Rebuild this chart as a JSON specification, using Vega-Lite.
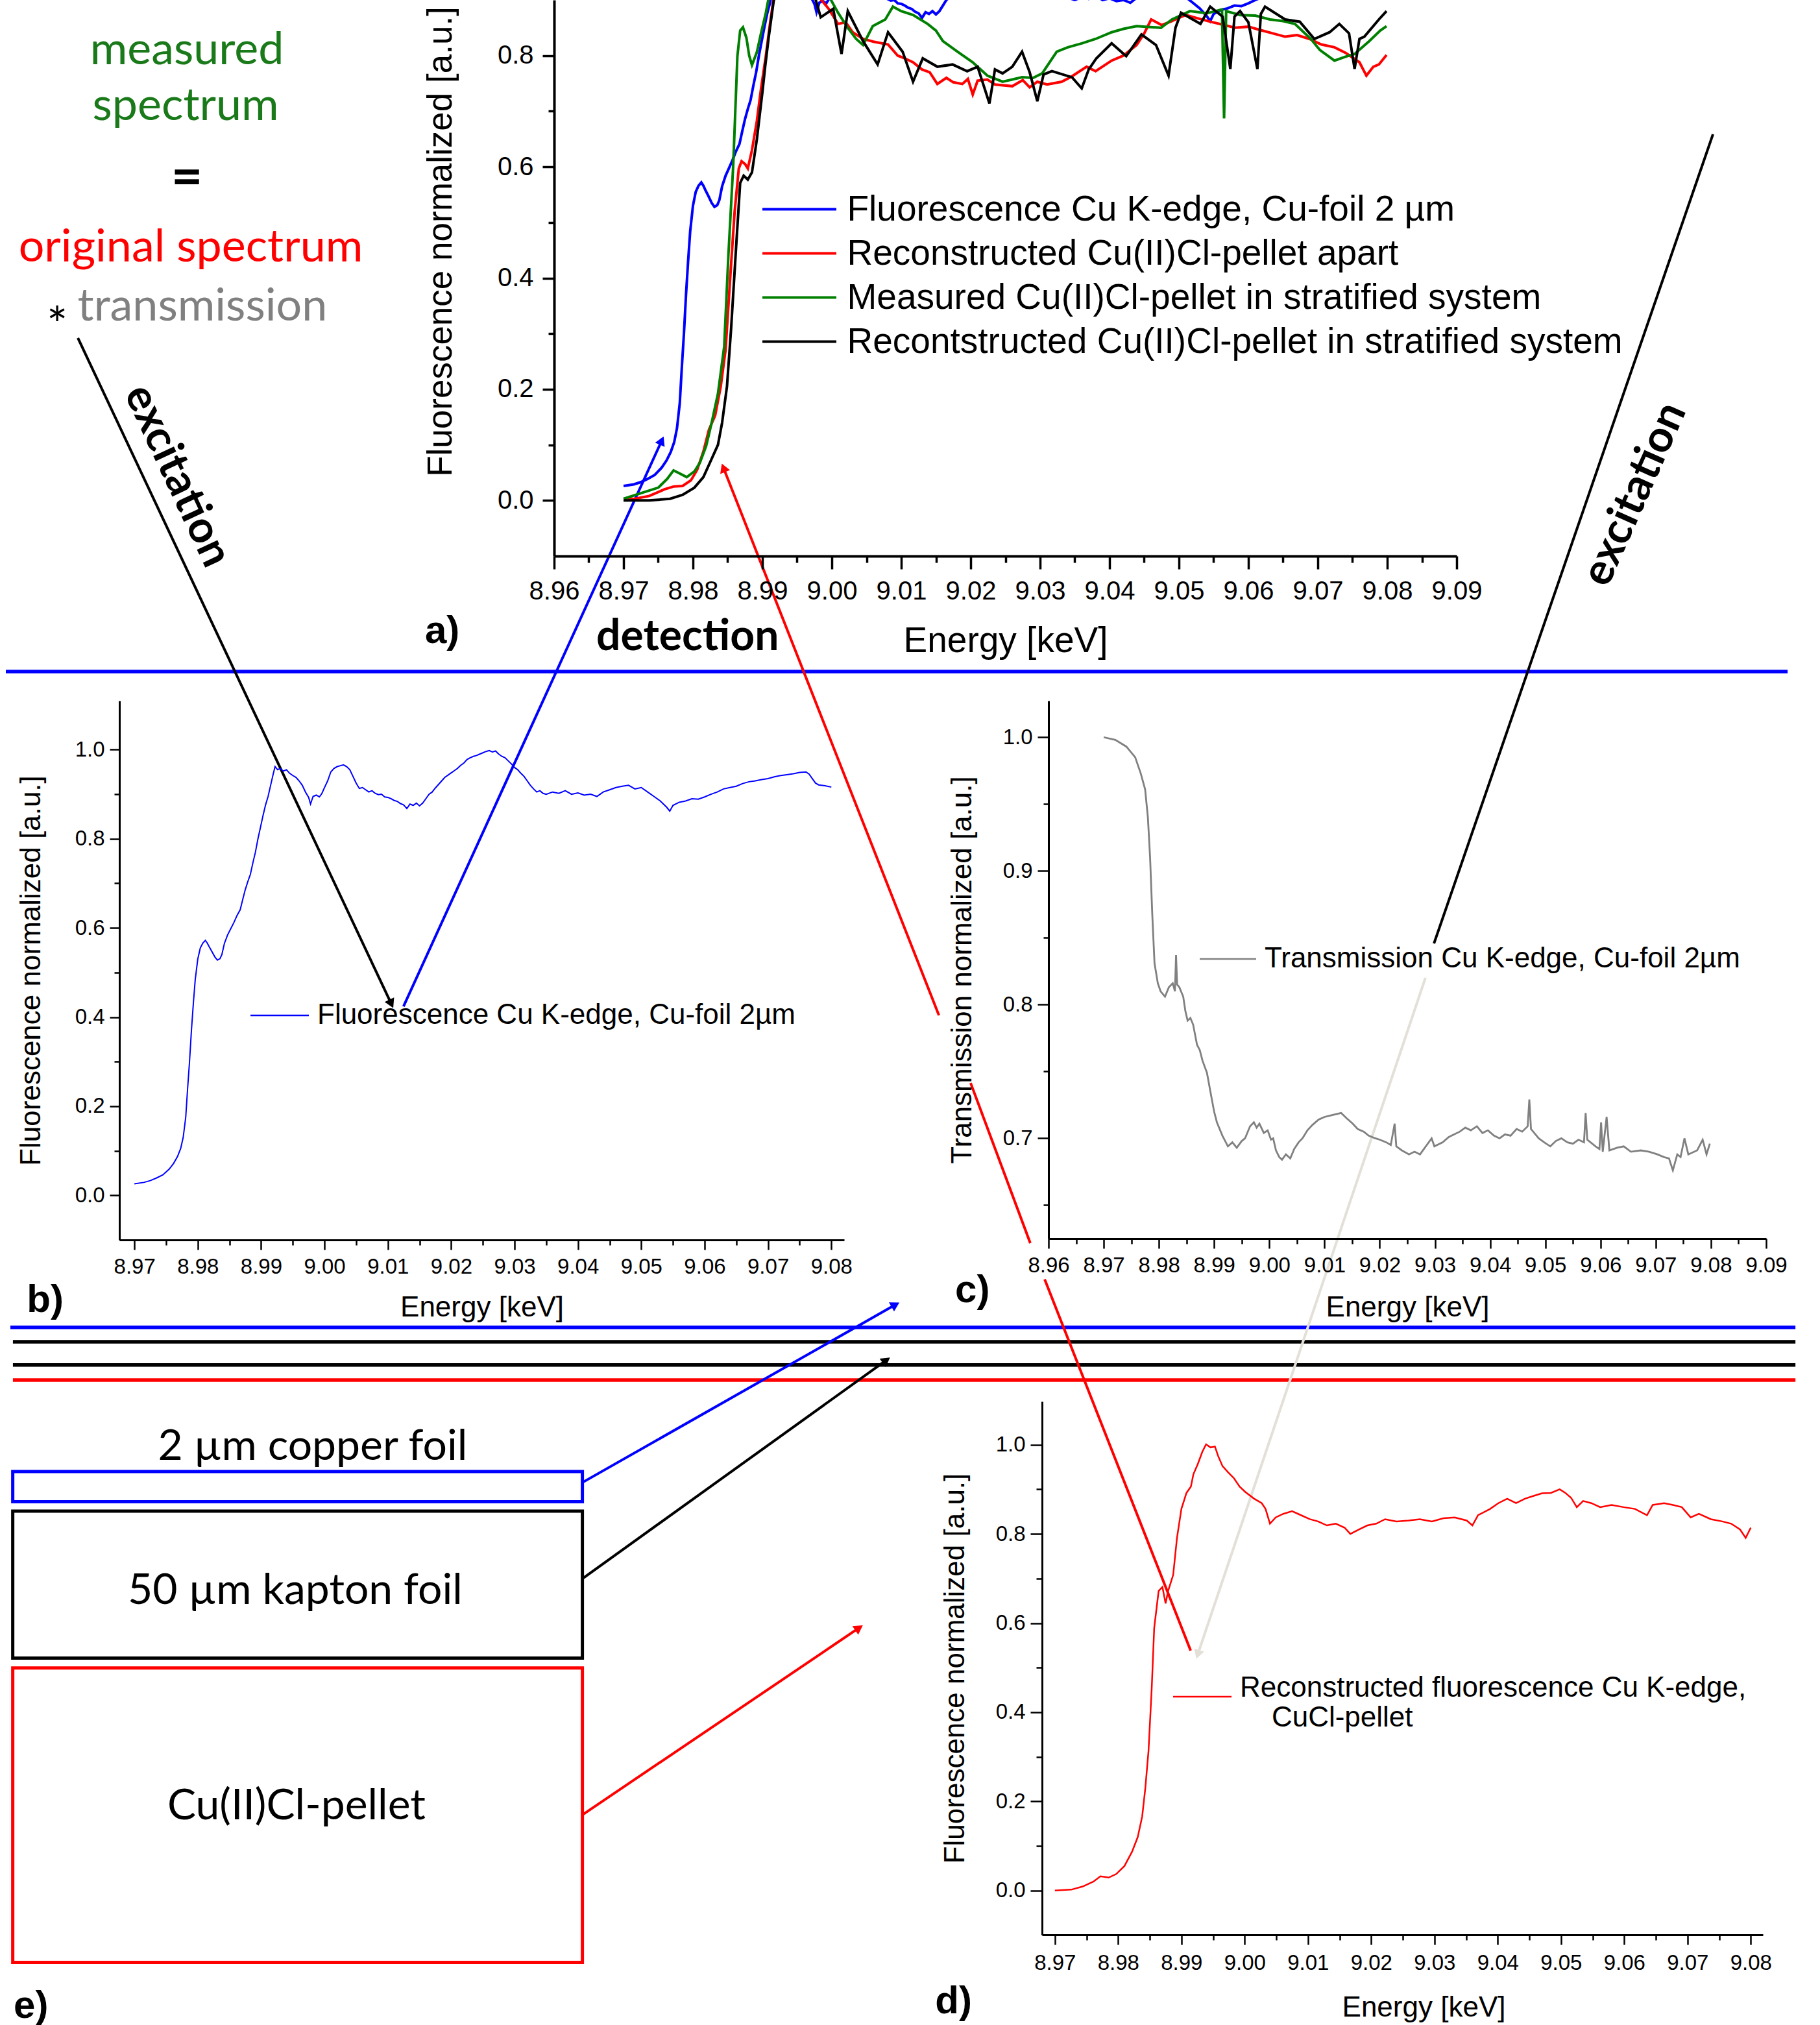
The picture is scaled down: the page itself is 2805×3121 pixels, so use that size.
{
  "$schema": "https://vega.github.io/schema/vega-lite/v6.json",
  "background": "white",
  "padding": 0,
  "config": {
    "view": {"stroke": null},
    "axis": {"labelFont": "Liberation Sans", "titleFont": "Liberation Sans", "titleFontWeight": "normal", "labelColor": "black", "titleColor": "black", "domainColor": "black", "tickColor": "black", "grid": false, "labelFlush": false, "labelOverlap": false, "labelBound": false},
    "legend": {"labelFont": "Liberation Sans", "labelColor": "black", "labelLimit": 0, "padding": 0}
  },
  "datasets": {
    "foil": [
      {"energy":8.970,"value":0.026,"series":"Fluorescence Cu K-edge, Cu-foil 2µm"},
      {"energy":8.9715,"value":0.029,"series":"Fluorescence Cu K-edge, Cu-foil 2µm"},
      {"energy":8.9725,"value":0.033,"series":"Fluorescence Cu K-edge, Cu-foil 2µm"},
      {"energy":8.9735,"value":0.039,"series":"Fluorescence Cu K-edge, Cu-foil 2µm"},
      {"energy":8.9745,"value":0.046,"series":"Fluorescence Cu K-edge, Cu-foil 2µm"},
      {"energy":8.9755,"value":0.059,"series":"Fluorescence Cu K-edge, Cu-foil 2µm"},
      {"energy":8.9762,"value":0.072,"series":"Fluorescence Cu K-edge, Cu-foil 2µm"},
      {"energy":8.9768,"value":0.087,"series":"Fluorescence Cu K-edge, Cu-foil 2µm"},
      {"energy":8.9773,"value":0.105,"series":"Fluorescence Cu K-edge, Cu-foil 2µm"},
      {"energy":8.9777,"value":0.13,"series":"Fluorescence Cu K-edge, Cu-foil 2µm"},
      {"energy":8.9781,"value":0.175,"series":"Fluorescence Cu K-edge, Cu-foil 2µm"},
      {"energy":8.9784,"value":0.24,"series":"Fluorescence Cu K-edge, Cu-foil 2µm"},
      {"energy":8.9787,"value":0.30,"series":"Fluorescence Cu K-edge, Cu-foil 2µm"},
      {"energy":8.979,"value":0.37,"series":"Fluorescence Cu K-edge, Cu-foil 2µm"},
      {"energy":8.9793,"value":0.43,"series":"Fluorescence Cu K-edge, Cu-foil 2µm"},
      {"energy":8.9796,"value":0.484,"series":"Fluorescence Cu K-edge, Cu-foil 2µm"},
      {"energy":8.98,"value":0.53,"series":"Fluorescence Cu K-edge, Cu-foil 2µm"},
      {"energy":8.9804,"value":0.555,"series":"Fluorescence Cu K-edge, Cu-foil 2µm"},
      {"energy":8.9808,"value":0.566,"series":"Fluorescence Cu K-edge, Cu-foil 2µm"},
      {"energy":8.9812,"value":0.572,"series":"Fluorescence Cu K-edge, Cu-foil 2µm"},
      {"energy":8.9815,"value":0.566,"series":"Fluorescence Cu K-edge, Cu-foil 2µm"},
      {"energy":8.9818,"value":0.558,"series":"Fluorescence Cu K-edge, Cu-foil 2µm"},
      {"energy":8.9822,"value":0.548,"series":"Fluorescence Cu K-edge, Cu-foil 2µm"},
      {"energy":8.9827,"value":0.535,"series":"Fluorescence Cu K-edge, Cu-foil 2µm"},
      {"energy":8.9831,"value":0.528,"series":"Fluorescence Cu K-edge, Cu-foil 2µm"},
      {"energy":8.9835,"value":0.531,"series":"Fluorescence Cu K-edge, Cu-foil 2µm"},
      {"energy":8.9838,"value":0.54,"series":"Fluorescence Cu K-edge, Cu-foil 2µm"},
      {"energy":8.9842,"value":0.565,"series":"Fluorescence Cu K-edge, Cu-foil 2µm"},
      {"energy":8.9847,"value":0.584,"series":"Fluorescence Cu K-edge, Cu-foil 2µm"},
      {"energy":8.9852,"value":0.598,"series":"Fluorescence Cu K-edge, Cu-foil 2µm"},
      {"energy":8.9857,"value":0.612,"series":"Fluorescence Cu K-edge, Cu-foil 2µm"},
      {"energy":8.9862,"value":0.628,"series":"Fluorescence Cu K-edge, Cu-foil 2µm"},
      {"energy":8.9867,"value":0.641,"series":"Fluorescence Cu K-edge, Cu-foil 2µm"},
      {"energy":8.9871,"value":0.664,"series":"Fluorescence Cu K-edge, Cu-foil 2µm"},
      {"energy":8.9875,"value":0.686,"series":"Fluorescence Cu K-edge, Cu-foil 2µm"},
      {"energy":8.9879,"value":0.704,"series":"Fluorescence Cu K-edge, Cu-foil 2µm"},
      {"energy":8.9883,"value":0.72,"series":"Fluorescence Cu K-edge, Cu-foil 2µm"},
      {"energy":8.9887,"value":0.746,"series":"Fluorescence Cu K-edge, Cu-foil 2µm"},
      {"energy":8.9891,"value":0.77,"series":"Fluorescence Cu K-edge, Cu-foil 2µm"},
      {"energy":8.9895,"value":0.80,"series":"Fluorescence Cu K-edge, Cu-foil 2µm"},
      {"energy":8.9899,"value":0.826,"series":"Fluorescence Cu K-edge, Cu-foil 2µm"},
      {"energy":8.9903,"value":0.852,"series":"Fluorescence Cu K-edge, Cu-foil 2µm"},
      {"energy":8.9907,"value":0.876,"series":"Fluorescence Cu K-edge, Cu-foil 2µm"},
      {"energy":8.9911,"value":0.895,"series":"Fluorescence Cu K-edge, Cu-foil 2µm"},
      {"energy":8.9915,"value":0.92,"series":"Fluorescence Cu K-edge, Cu-foil 2µm"},
      {"energy":8.9919,"value":0.945,"series":"Fluorescence Cu K-edge, Cu-foil 2µm"},
      {"energy":8.9922,"value":0.962,"series":"Fluorescence Cu K-edge, Cu-foil 2µm"},
      {"energy":8.9926,"value":0.955,"series":"Fluorescence Cu K-edge, Cu-foil 2µm"},
      {"energy":8.993,"value":0.958,"series":"Fluorescence Cu K-edge, Cu-foil 2µm"},
      {"energy":8.9935,"value":0.952,"series":"Fluorescence Cu K-edge, Cu-foil 2µm"},
      {"energy":8.994,"value":0.955,"series":"Fluorescence Cu K-edge, Cu-foil 2µm"},
      {"energy":8.9945,"value":0.947,"series":"Fluorescence Cu K-edge, Cu-foil 2µm"},
      {"energy":8.995,"value":0.942,"series":"Fluorescence Cu K-edge, Cu-foil 2µm"},
      {"energy":8.9955,"value":0.938,"series":"Fluorescence Cu K-edge, Cu-foil 2µm"},
      {"energy":8.996,"value":0.93,"series":"Fluorescence Cu K-edge, Cu-foil 2µm"},
      {"energy":8.9965,"value":0.92,"series":"Fluorescence Cu K-edge, Cu-foil 2µm"},
      {"energy":8.997,"value":0.905,"series":"Fluorescence Cu K-edge, Cu-foil 2µm"},
      {"energy":8.9975,"value":0.893,"series":"Fluorescence Cu K-edge, Cu-foil 2µm"},
      {"energy":8.9978,"value":0.878,"series":"Fluorescence Cu K-edge, Cu-foil 2µm"},
      {"energy":8.9982,"value":0.895,"series":"Fluorescence Cu K-edge, Cu-foil 2µm"},
      {"energy":8.9987,"value":0.898,"series":"Fluorescence Cu K-edge, Cu-foil 2µm"},
      {"energy":8.9992,"value":0.894,"series":"Fluorescence Cu K-edge, Cu-foil 2µm"},
      {"energy":8.9996,"value":0.902,"series":"Fluorescence Cu K-edge, Cu-foil 2µm"},
      {"energy":9.0,"value":0.915,"series":"Fluorescence Cu K-edge, Cu-foil 2µm"},
      {"energy":9.0005,"value":0.93,"series":"Fluorescence Cu K-edge, Cu-foil 2µm"},
      {"energy":9.001,"value":0.95,"series":"Fluorescence Cu K-edge, Cu-foil 2µm"},
      {"energy":9.0015,"value":0.958,"series":"Fluorescence Cu K-edge, Cu-foil 2µm"},
      {"energy":9.002,"value":0.962,"series":"Fluorescence Cu K-edge, Cu-foil 2µm"},
      {"energy":9.0025,"value":0.964,"series":"Fluorescence Cu K-edge, Cu-foil 2µm"},
      {"energy":9.003,"value":0.966,"series":"Fluorescence Cu K-edge, Cu-foil 2µm"},
      {"energy":9.0035,"value":0.962,"series":"Fluorescence Cu K-edge, Cu-foil 2µm"},
      {"energy":9.004,"value":0.955,"series":"Fluorescence Cu K-edge, Cu-foil 2µm"},
      {"energy":9.0045,"value":0.94,"series":"Fluorescence Cu K-edge, Cu-foil 2µm"},
      {"energy":9.005,"value":0.925,"series":"Fluorescence Cu K-edge, Cu-foil 2µm"},
      {"energy":9.0055,"value":0.913,"series":"Fluorescence Cu K-edge, Cu-foil 2µm"},
      {"energy":9.006,"value":0.915,"series":"Fluorescence Cu K-edge, Cu-foil 2µm"},
      {"energy":9.0065,"value":0.91,"series":"Fluorescence Cu K-edge, Cu-foil 2µm"},
      {"energy":9.007,"value":0.905,"series":"Fluorescence Cu K-edge, Cu-foil 2µm"},
      {"energy":9.0075,"value":0.908,"series":"Fluorescence Cu K-edge, Cu-foil 2µm"},
      {"energy":9.008,"value":0.902,"series":"Fluorescence Cu K-edge, Cu-foil 2µm"},
      {"energy":9.0085,"value":0.899,"series":"Fluorescence Cu K-edge, Cu-foil 2µm"},
      {"energy":9.009,"value":0.9,"series":"Fluorescence Cu K-edge, Cu-foil 2µm"},
      {"energy":9.0095,"value":0.894,"series":"Fluorescence Cu K-edge, Cu-foil 2µm"},
      {"energy":9.01,"value":0.893,"series":"Fluorescence Cu K-edge, Cu-foil 2µm"},
      {"energy":9.0105,"value":0.89,"series":"Fluorescence Cu K-edge, Cu-foil 2µm"},
      {"energy":9.011,"value":0.886,"series":"Fluorescence Cu K-edge, Cu-foil 2µm"},
      {"energy":9.0115,"value":0.884,"series":"Fluorescence Cu K-edge, Cu-foil 2µm"},
      {"energy":9.012,"value":0.879,"series":"Fluorescence Cu K-edge, Cu-foil 2µm"},
      {"energy":9.0125,"value":0.876,"series":"Fluorescence Cu K-edge, Cu-foil 2µm"},
      {"energy":9.013,"value":0.868,"series":"Fluorescence Cu K-edge, Cu-foil 2µm"},
      {"energy":9.0135,"value":0.878,"series":"Fluorescence Cu K-edge, Cu-foil 2µm"},
      {"energy":9.014,"value":0.875,"series":"Fluorescence Cu K-edge, Cu-foil 2µm"},
      {"energy":9.0145,"value":0.88,"series":"Fluorescence Cu K-edge, Cu-foil 2µm"},
      {"energy":9.015,"value":0.874,"series":"Fluorescence Cu K-edge, Cu-foil 2µm"},
      {"energy":9.0155,"value":0.88,"series":"Fluorescence Cu K-edge, Cu-foil 2µm"},
      {"energy":9.016,"value":0.89,"series":"Fluorescence Cu K-edge, Cu-foil 2µm"},
      {"energy":9.0165,"value":0.9,"series":"Fluorescence Cu K-edge, Cu-foil 2µm"},
      {"energy":9.017,"value":0.905,"series":"Fluorescence Cu K-edge, Cu-foil 2µm"},
      {"energy":9.0175,"value":0.914,"series":"Fluorescence Cu K-edge, Cu-foil 2µm"},
      {"energy":9.018,"value":0.922,"series":"Fluorescence Cu K-edge, Cu-foil 2µm"},
      {"energy":9.0185,"value":0.93,"series":"Fluorescence Cu K-edge, Cu-foil 2µm"},
      {"energy":9.019,"value":0.938,"series":"Fluorescence Cu K-edge, Cu-foil 2µm"},
      {"energy":9.0195,"value":0.943,"series":"Fluorescence Cu K-edge, Cu-foil 2µm"},
      {"energy":9.02,"value":0.948,"series":"Fluorescence Cu K-edge, Cu-foil 2µm"},
      {"energy":9.0205,"value":0.953,"series":"Fluorescence Cu K-edge, Cu-foil 2µm"},
      {"energy":9.021,"value":0.958,"series":"Fluorescence Cu K-edge, Cu-foil 2µm"},
      {"energy":9.0215,"value":0.965,"series":"Fluorescence Cu K-edge, Cu-foil 2µm"},
      {"energy":9.022,"value":0.97,"series":"Fluorescence Cu K-edge, Cu-foil 2µm"},
      {"energy":9.0225,"value":0.978,"series":"Fluorescence Cu K-edge, Cu-foil 2µm"},
      {"energy":9.023,"value":0.982,"series":"Fluorescence Cu K-edge, Cu-foil 2µm"},
      {"energy":9.0235,"value":0.985,"series":"Fluorescence Cu K-edge, Cu-foil 2µm"},
      {"energy":9.024,"value":0.987,"series":"Fluorescence Cu K-edge, Cu-foil 2µm"},
      {"energy":9.0245,"value":0.99,"series":"Fluorescence Cu K-edge, Cu-foil 2µm"},
      {"energy":9.025,"value":0.993,"series":"Fluorescence Cu K-edge, Cu-foil 2µm"},
      {"energy":9.0255,"value":0.996,"series":"Fluorescence Cu K-edge, Cu-foil 2µm"},
      {"energy":9.026,"value":0.998,"series":"Fluorescence Cu K-edge, Cu-foil 2µm"},
      {"energy":9.0265,"value":0.995,"series":"Fluorescence Cu K-edge, Cu-foil 2µm"},
      {"energy":9.027,"value":0.997,"series":"Fluorescence Cu K-edge, Cu-foil 2µm"},
      {"energy":9.0275,"value":0.99,"series":"Fluorescence Cu K-edge, Cu-foil 2µm"},
      {"energy":9.028,"value":0.985,"series":"Fluorescence Cu K-edge, Cu-foil 2µm"},
      {"energy":9.0285,"value":0.982,"series":"Fluorescence Cu K-edge, Cu-foil 2µm"},
      {"energy":9.029,"value":0.975,"series":"Fluorescence Cu K-edge, Cu-foil 2µm"},
      {"energy":9.0295,"value":0.968,"series":"Fluorescence Cu K-edge, Cu-foil 2µm"},
      {"energy":9.03,"value":0.96,"series":"Fluorescence Cu K-edge, Cu-foil 2µm"},
      {"energy":9.0305,"value":0.955,"series":"Fluorescence Cu K-edge, Cu-foil 2µm"},
      {"energy":9.031,"value":0.947,"series":"Fluorescence Cu K-edge, Cu-foil 2µm"},
      {"energy":9.0315,"value":0.94,"series":"Fluorescence Cu K-edge, Cu-foil 2µm"},
      {"energy":9.032,"value":0.93,"series":"Fluorescence Cu K-edge, Cu-foil 2µm"},
      {"energy":9.0325,"value":0.92,"series":"Fluorescence Cu K-edge, Cu-foil 2µm"},
      {"energy":9.033,"value":0.912,"series":"Fluorescence Cu K-edge, Cu-foil 2µm"},
      {"energy":9.0335,"value":0.905,"series":"Fluorescence Cu K-edge, Cu-foil 2µm"},
      {"energy":9.034,"value":0.908,"series":"Fluorescence Cu K-edge, Cu-foil 2µm"},
      {"energy":9.0345,"value":0.902,"series":"Fluorescence Cu K-edge, Cu-foil 2µm"},
      {"energy":9.035,"value":0.9,"series":"Fluorescence Cu K-edge, Cu-foil 2µm"},
      {"energy":9.036,"value":0.905,"series":"Fluorescence Cu K-edge, Cu-foil 2µm"},
      {"energy":9.037,"value":0.902,"series":"Fluorescence Cu K-edge, Cu-foil 2µm"},
      {"energy":9.038,"value":0.908,"series":"Fluorescence Cu K-edge, Cu-foil 2µm"},
      {"energy":9.039,"value":0.9,"series":"Fluorescence Cu K-edge, Cu-foil 2µm"},
      {"energy":9.04,"value":0.903,"series":"Fluorescence Cu K-edge, Cu-foil 2µm"},
      {"energy":9.041,"value":0.898,"series":"Fluorescence Cu K-edge, Cu-foil 2µm"},
      {"energy":9.042,"value":0.9,"series":"Fluorescence Cu K-edge, Cu-foil 2µm"},
      {"energy":9.043,"value":0.895,"series":"Fluorescence Cu K-edge, Cu-foil 2µm"},
      {"energy":9.044,"value":0.905,"series":"Fluorescence Cu K-edge, Cu-foil 2µm"},
      {"energy":9.045,"value":0.91,"series":"Fluorescence Cu K-edge, Cu-foil 2µm"},
      {"energy":9.046,"value":0.915,"series":"Fluorescence Cu K-edge, Cu-foil 2µm"},
      {"energy":9.047,"value":0.918,"series":"Fluorescence Cu K-edge, Cu-foil 2µm"},
      {"energy":9.048,"value":0.92,"series":"Fluorescence Cu K-edge, Cu-foil 2µm"},
      {"energy":9.049,"value":0.912,"series":"Fluorescence Cu K-edge, Cu-foil 2µm"},
      {"energy":9.05,"value":0.915,"series":"Fluorescence Cu K-edge, Cu-foil 2µm"},
      {"energy":9.051,"value":0.905,"series":"Fluorescence Cu K-edge, Cu-foil 2µm"},
      {"energy":9.052,"value":0.895,"series":"Fluorescence Cu K-edge, Cu-foil 2µm"},
      {"energy":9.053,"value":0.885,"series":"Fluorescence Cu K-edge, Cu-foil 2µm"},
      {"energy":9.054,"value":0.871,"series":"Fluorescence Cu K-edge, Cu-foil 2µm"},
      {"energy":9.0545,"value":0.862,"series":"Fluorescence Cu K-edge, Cu-foil 2µm"},
      {"energy":9.055,"value":0.875,"series":"Fluorescence Cu K-edge, Cu-foil 2µm"},
      {"energy":9.056,"value":0.882,"series":"Fluorescence Cu K-edge, Cu-foil 2µm"},
      {"energy":9.057,"value":0.885,"series":"Fluorescence Cu K-edge, Cu-foil 2µm"},
      {"energy":9.058,"value":0.89,"series":"Fluorescence Cu K-edge, Cu-foil 2µm"},
      {"energy":9.059,"value":0.889,"series":"Fluorescence Cu K-edge, Cu-foil 2µm"},
      {"energy":9.06,"value":0.894,"series":"Fluorescence Cu K-edge, Cu-foil 2µm"},
      {"energy":9.061,"value":0.9,"series":"Fluorescence Cu K-edge, Cu-foil 2µm"},
      {"energy":9.062,"value":0.905,"series":"Fluorescence Cu K-edge, Cu-foil 2µm"},
      {"energy":9.063,"value":0.912,"series":"Fluorescence Cu K-edge, Cu-foil 2µm"},
      {"energy":9.064,"value":0.915,"series":"Fluorescence Cu K-edge, Cu-foil 2µm"},
      {"energy":9.065,"value":0.918,"series":"Fluorescence Cu K-edge, Cu-foil 2µm"},
      {"energy":9.066,"value":0.924,"series":"Fluorescence Cu K-edge, Cu-foil 2µm"},
      {"energy":9.067,"value":0.928,"series":"Fluorescence Cu K-edge, Cu-foil 2µm"},
      {"energy":9.068,"value":0.93,"series":"Fluorescence Cu K-edge, Cu-foil 2µm"},
      {"energy":9.069,"value":0.933,"series":"Fluorescence Cu K-edge, Cu-foil 2µm"},
      {"energy":9.07,"value":0.935,"series":"Fluorescence Cu K-edge, Cu-foil 2µm"},
      {"energy":9.071,"value":0.939,"series":"Fluorescence Cu K-edge, Cu-foil 2µm"},
      {"energy":9.072,"value":0.942,"series":"Fluorescence Cu K-edge, Cu-foil 2µm"},
      {"energy":9.073,"value":0.944,"series":"Fluorescence Cu K-edge, Cu-foil 2µm"},
      {"energy":9.074,"value":0.946,"series":"Fluorescence Cu K-edge, Cu-foil 2µm"},
      {"energy":9.075,"value":0.949,"series":"Fluorescence Cu K-edge, Cu-foil 2µm"},
      {"energy":9.076,"value":0.95,"series":"Fluorescence Cu K-edge, Cu-foil 2µm"},
      {"energy":9.0765,"value":0.945,"series":"Fluorescence Cu K-edge, Cu-foil 2µm"},
      {"energy":9.077,"value":0.935,"series":"Fluorescence Cu K-edge, Cu-foil 2µm"},
      {"energy":9.0775,"value":0.925,"series":"Fluorescence Cu K-edge, Cu-foil 2µm"},
      {"energy":9.078,"value":0.921,"series":"Fluorescence Cu K-edge, Cu-foil 2µm"},
      {"energy":9.079,"value":0.919,"series":"Fluorescence Cu K-edge, Cu-foil 2µm"},
      {"energy":9.08,"value":0.916,"series":"Fluorescence Cu K-edge, Cu-foil 2µm"}
    ],
    "stack": [
      {"energy":8.970,"value":0.002,"series":"Reconstructed Cu(II)Cl-pellet apart"},
      {"energy":8.9716,"value":0.003,"series":"Reconstructed Cu(II)Cl-pellet apart"},
      {"energy":8.9737,"value":0.008,"series":"Reconstructed Cu(II)Cl-pellet apart"},
      {"energy":8.9759,"value":0.02,"series":"Reconstructed Cu(II)Cl-pellet apart"},
      {"energy":8.9772,"value":0.025,"series":"Reconstructed Cu(II)Cl-pellet apart"},
      {"energy":8.9785,"value":0.026,"series":"Reconstructed Cu(II)Cl-pellet apart"},
      {"energy":8.9797,"value":0.036,"series":"Reconstructed Cu(II)Cl-pellet apart"},
      {"energy":8.9806,"value":0.055,"series":"Reconstructed Cu(II)Cl-pellet apart"},
      {"energy":8.9815,"value":0.088,"series":"Reconstructed Cu(II)Cl-pellet apart"},
      {"energy":8.9823,"value":0.127,"series":"Reconstructed Cu(II)Cl-pellet apart"},
      {"energy":8.9832,"value":0.153,"series":"Reconstructed Cu(II)Cl-pellet apart"},
      {"energy":8.984,"value":0.205,"series":"Reconstructed Cu(II)Cl-pellet apart"},
      {"energy":8.9847,"value":0.271,"series":"Reconstructed Cu(II)Cl-pellet apart"},
      {"energy":8.9853,"value":0.388,"series":"Reconstructed Cu(II)Cl-pellet apart"},
      {"energy":8.986,"value":0.519,"series":"Reconstructed Cu(II)Cl-pellet apart"},
      {"energy":8.9866,"value":0.597,"series":"Reconstructed Cu(II)Cl-pellet apart"},
      {"energy":8.987,"value":0.61,"series":"Reconstructed Cu(II)Cl-pellet apart"},
      {"energy":8.9875,"value":0.605,"series":"Reconstructed Cu(II)Cl-pellet apart"},
      {"energy":8.9879,"value":0.597,"series":"Reconstructed Cu(II)Cl-pellet apart"},
      {"energy":8.9885,"value":0.63,"series":"Reconstructed Cu(II)Cl-pellet apart"},
      {"energy":8.9892,"value":0.682,"series":"Reconstructed Cu(II)Cl-pellet apart"},
      {"energy":8.9898,"value":0.74,"series":"Reconstructed Cu(II)Cl-pellet apart"},
      {"energy":8.9905,"value":0.80,"series":"Reconstructed Cu(II)Cl-pellet apart"},
      {"energy":8.9911,"value":0.858,"series":"Reconstructed Cu(II)Cl-pellet apart"},
      {"energy":8.9917,"value":0.91,"series":"Reconstructed Cu(II)Cl-pellet apart"},
      {"energy":8.9925,"value":0.96,"series":"Reconstructed Cu(II)Cl-pellet apart"},
      {"energy":8.9935,"value":0.99,"series":"Reconstructed Cu(II)Cl-pellet apart"},
      {"energy":8.9945,"value":1.0,"series":"Reconstructed Cu(II)Cl-pellet apart"},
      {"energy":8.9955,"value":0.98,"series":"Reconstructed Cu(II)Cl-pellet apart"},
      {"energy":8.9965,"value":0.95,"series":"Reconstructed Cu(II)Cl-pellet apart"},
      {"energy":8.9975,"value":0.92,"series":"Reconstructed Cu(II)Cl-pellet apart"},
      {"energy":8.9985,"value":0.9,"series":"Reconstructed Cu(II)Cl-pellet apart"},
      {"energy":8.9995,"value":0.885,"series":"Reconstructed Cu(II)Cl-pellet apart"},
      {"energy":9.0009,"value":0.857,"series":"Reconstructed Cu(II)Cl-pellet apart"},
      {"energy":9.002,"value":0.86,"series":"Reconstructed Cu(II)Cl-pellet apart"},
      {"energy":9.003,"value":0.842,"series":"Reconstructed Cu(II)Cl-pellet apart"},
      {"energy":9.0045,"value":0.83,"series":"Reconstructed Cu(II)Cl-pellet apart"},
      {"energy":9.006,"value":0.825,"series":"Reconstructed Cu(II)Cl-pellet apart"},
      {"energy":9.0081,"value":0.82,"series":"Reconstructed Cu(II)Cl-pellet apart"},
      {"energy":9.0095,"value":0.80,"series":"Reconstructed Cu(II)Cl-pellet apart"},
      {"energy":9.0105,"value":0.795,"series":"Reconstructed Cu(II)Cl-pellet apart"},
      {"energy":9.0117,"value":0.788,"series":"Reconstructed Cu(II)Cl-pellet apart"},
      {"energy":9.013,"value":0.775,"series":"Reconstructed Cu(II)Cl-pellet apart"},
      {"energy":9.0141,"value":0.77,"series":"Reconstructed Cu(II)Cl-pellet apart"},
      {"energy":9.0152,"value":0.749,"series":"Reconstructed Cu(II)Cl-pellet apart"},
      {"energy":9.0165,"value":0.76,"series":"Reconstructed Cu(II)Cl-pellet apart"},
      {"energy":9.0175,"value":0.752,"series":"Reconstructed Cu(II)Cl-pellet apart"},
      {"energy":9.0188,"value":0.749,"series":"Reconstructed Cu(II)Cl-pellet apart"},
      {"energy":9.0196,"value":0.758,"series":"Reconstructed Cu(II)Cl-pellet apart"},
      {"energy":9.0203,"value":0.73,"series":"Reconstructed Cu(II)Cl-pellet apart"},
      {"energy":9.021,"value":0.755,"series":"Reconstructed Cu(II)Cl-pellet apart"},
      {"energy":9.0224,"value":0.757,"series":"Reconstructed Cu(II)Cl-pellet apart"},
      {"energy":9.0235,"value":0.748,"series":"Reconstructed Cu(II)Cl-pellet apart"},
      {"energy":9.026,"value":0.745,"series":"Reconstructed Cu(II)Cl-pellet apart"},
      {"energy":9.0275,"value":0.756,"series":"Reconstructed Cu(II)Cl-pellet apart"},
      {"energy":9.0285,"value":0.743,"series":"Reconstructed Cu(II)Cl-pellet apart"},
      {"energy":9.0296,"value":0.753,"series":"Reconstructed Cu(II)Cl-pellet apart"},
      {"energy":9.031,"value":0.748,"series":"Reconstructed Cu(II)Cl-pellet apart"},
      {"energy":9.0331,"value":0.753,"series":"Reconstructed Cu(II)Cl-pellet apart"},
      {"energy":9.0345,"value":0.762,"series":"Reconstructed Cu(II)Cl-pellet apart"},
      {"energy":9.0367,"value":0.78,"series":"Reconstructed Cu(II)Cl-pellet apart"},
      {"energy":9.038,"value":0.772,"series":"Reconstructed Cu(II)Cl-pellet apart"},
      {"energy":9.0403,"value":0.791,"series":"Reconstructed Cu(II)Cl-pellet apart"},
      {"energy":9.042,"value":0.80,"series":"Reconstructed Cu(II)Cl-pellet apart"},
      {"energy":9.0439,"value":0.819,"series":"Reconstructed Cu(II)Cl-pellet apart"},
      {"energy":9.045,"value":0.84,"series":"Reconstructed Cu(II)Cl-pellet apart"},
      {"energy":9.046,"value":0.865,"series":"Reconstructed Cu(II)Cl-pellet apart"},
      {"energy":9.0475,"value":0.855,"series":"Reconstructed Cu(II)Cl-pellet apart"},
      {"energy":9.0488,"value":0.861,"series":"Reconstructed Cu(II)Cl-pellet apart"},
      {"energy":9.05,"value":0.868,"series":"Reconstructed Cu(II)Cl-pellet apart"},
      {"energy":9.051,"value":0.873,"series":"Reconstructed Cu(II)Cl-pellet apart"},
      {"energy":9.053,"value":0.866,"series":"Reconstructed Cu(II)Cl-pellet apart"},
      {"energy":9.0545,"value":0.861,"series":"Reconstructed Cu(II)Cl-pellet apart"},
      {"energy":9.0565,"value":0.855,"series":"Reconstructed Cu(II)Cl-pellet apart"},
      {"energy":9.0581,"value":0.85,"series":"Reconstructed Cu(II)Cl-pellet apart"},
      {"energy":9.06,"value":0.852,"series":"Reconstructed Cu(II)Cl-pellet apart"},
      {"energy":9.0617,"value":0.846,"series":"Reconstructed Cu(II)Cl-pellet apart"},
      {"energy":9.0635,"value":0.84,"series":"Reconstructed Cu(II)Cl-pellet apart"},
      {"energy":9.0653,"value":0.834,"series":"Reconstructed Cu(II)Cl-pellet apart"},
      {"energy":9.067,"value":0.837,"series":"Reconstructed Cu(II)Cl-pellet apart"},
      {"energy":9.0688,"value":0.83,"series":"Reconstructed Cu(II)Cl-pellet apart"},
      {"energy":9.0705,"value":0.82,"series":"Reconstructed Cu(II)Cl-pellet apart"},
      {"energy":9.0724,"value":0.815,"series":"Reconstructed Cu(II)Cl-pellet apart"},
      {"energy":9.074,"value":0.805,"series":"Reconstructed Cu(II)Cl-pellet apart"},
      {"energy":9.076,"value":0.788,"series":"Reconstructed Cu(II)Cl-pellet apart"},
      {"energy":9.077,"value":0.764,"series":"Reconstructed Cu(II)Cl-pellet apart"},
      {"energy":9.078,"value":0.78,"series":"Reconstructed Cu(II)Cl-pellet apart"},
      {"energy":9.0788,"value":0.784,"series":"Reconstructed Cu(II)Cl-pellet apart"},
      {"energy":9.0799,"value":0.801,"series":"Reconstructed Cu(II)Cl-pellet apart"},
      {"energy":8.970,"value":0.003,"series":"Measured Cu(II)Cl-pellet in stratified system"},
      {"energy":8.9725,"value":0.013,"series":"Measured Cu(II)Cl-pellet in stratified system"},
      {"energy":8.975,"value":0.023,"series":"Measured Cu(II)Cl-pellet in stratified system"},
      {"energy":8.9763,"value":0.039,"series":"Measured Cu(II)Cl-pellet in stratified system"},
      {"energy":8.9772,"value":0.054,"series":"Measured Cu(II)Cl-pellet in stratified system"},
      {"energy":8.978,"value":0.049,"series":"Measured Cu(II)Cl-pellet in stratified system"},
      {"energy":8.9791,"value":0.042,"series":"Measured Cu(II)Cl-pellet in stratified system"},
      {"energy":8.9802,"value":0.052,"series":"Measured Cu(II)Cl-pellet in stratified system"},
      {"energy":8.981,"value":0.068,"series":"Measured Cu(II)Cl-pellet in stratified system"},
      {"energy":8.9819,"value":0.098,"series":"Measured Cu(II)Cl-pellet in stratified system"},
      {"energy":8.9827,"value":0.14,"series":"Measured Cu(II)Cl-pellet in stratified system"},
      {"energy":8.9836,"value":0.192,"series":"Measured Cu(II)Cl-pellet in stratified system"},
      {"energy":8.9845,"value":0.277,"series":"Measured Cu(II)Cl-pellet in stratified system"},
      {"energy":8.9851,"value":0.44,"series":"Measured Cu(II)Cl-pellet in stratified system"},
      {"energy":8.9858,"value":0.603,"series":"Measured Cu(II)Cl-pellet in stratified system"},
      {"energy":8.9864,"value":0.799,"series":"Measured Cu(II)Cl-pellet in stratified system"},
      {"energy":8.9868,"value":0.845,"series":"Measured Cu(II)Cl-pellet in stratified system"},
      {"energy":8.9872,"value":0.851,"series":"Measured Cu(II)Cl-pellet in stratified system"},
      {"energy":8.9877,"value":0.832,"series":"Measured Cu(II)Cl-pellet in stratified system"},
      {"energy":8.9881,"value":0.80,"series":"Measured Cu(II)Cl-pellet in stratified system"},
      {"energy":8.9885,"value":0.783,"series":"Measured Cu(II)Cl-pellet in stratified system"},
      {"energy":8.9892,"value":0.806,"series":"Measured Cu(II)Cl-pellet in stratified system"},
      {"energy":8.9898,"value":0.84,"series":"Measured Cu(II)Cl-pellet in stratified system"},
      {"energy":8.9905,"value":0.877,"series":"Measured Cu(II)Cl-pellet in stratified system"},
      {"energy":8.991,"value":0.91,"series":"Measured Cu(II)Cl-pellet in stratified system"},
      {"energy":8.992,"value":0.95,"series":"Measured Cu(II)Cl-pellet in stratified system"},
      {"energy":8.9935,"value":0.98,"series":"Measured Cu(II)Cl-pellet in stratified system"},
      {"energy":8.995,"value":0.99,"series":"Measured Cu(II)Cl-pellet in stratified system"},
      {"energy":8.997,"value":0.96,"series":"Measured Cu(II)Cl-pellet in stratified system"},
      {"energy":8.999,"value":0.92,"series":"Measured Cu(II)Cl-pellet in stratified system"},
      {"energy":9.0009,"value":0.877,"series":"Measured Cu(II)Cl-pellet in stratified system"},
      {"energy":9.0023,"value":0.85,"series":"Measured Cu(II)Cl-pellet in stratified system"},
      {"energy":9.0035,"value":0.83,"series":"Measured Cu(II)Cl-pellet in stratified system"},
      {"energy":9.0045,"value":0.819,"series":"Measured Cu(II)Cl-pellet in stratified system"},
      {"energy":9.0059,"value":0.853,"series":"Measured Cu(II)Cl-pellet in stratified system"},
      {"energy":9.0077,"value":0.865,"series":"Measured Cu(II)Cl-pellet in stratified system"},
      {"energy":9.0088,"value":0.888,"series":"Measured Cu(II)Cl-pellet in stratified system"},
      {"energy":9.01,"value":0.88,"series":"Measured Cu(II)Cl-pellet in stratified system"},
      {"energy":9.0117,"value":0.873,"series":"Measured Cu(II)Cl-pellet in stratified system"},
      {"energy":9.0138,"value":0.857,"series":"Measured Cu(II)Cl-pellet in stratified system"},
      {"energy":9.015,"value":0.845,"series":"Measured Cu(II)Cl-pellet in stratified system"},
      {"energy":9.016,"value":0.826,"series":"Measured Cu(II)Cl-pellet in stratified system"},
      {"energy":9.0181,"value":0.807,"series":"Measured Cu(II)Cl-pellet in stratified system"},
      {"energy":9.0203,"value":0.788,"series":"Measured Cu(II)Cl-pellet in stratified system"},
      {"energy":9.0224,"value":0.764,"series":"Measured Cu(II)Cl-pellet in stratified system"},
      {"energy":9.0246,"value":0.753,"series":"Measured Cu(II)Cl-pellet in stratified system"},
      {"energy":9.026,"value":0.757,"series":"Measured Cu(II)Cl-pellet in stratified system"},
      {"energy":9.0274,"value":0.761,"series":"Measured Cu(II)Cl-pellet in stratified system"},
      {"energy":9.029,"value":0.76,"series":"Measured Cu(II)Cl-pellet in stratified system"},
      {"energy":9.0303,"value":0.768,"series":"Measured Cu(II)Cl-pellet in stratified system"},
      {"energy":9.0324,"value":0.807,"series":"Measured Cu(II)Cl-pellet in stratified system"},
      {"energy":9.034,"value":0.815,"series":"Measured Cu(II)Cl-pellet in stratified system"},
      {"energy":9.036,"value":0.822,"series":"Measured Cu(II)Cl-pellet in stratified system"},
      {"energy":9.038,"value":0.83,"series":"Measured Cu(II)Cl-pellet in stratified system"},
      {"energy":9.0403,"value":0.842,"series":"Measured Cu(II)Cl-pellet in stratified system"},
      {"energy":9.042,"value":0.848,"series":"Measured Cu(II)Cl-pellet in stratified system"},
      {"energy":9.0439,"value":0.853,"series":"Measured Cu(II)Cl-pellet in stratified system"},
      {"energy":9.0474,"value":0.85,"series":"Measured Cu(II)Cl-pellet in stratified system"},
      {"energy":9.049,"value":0.865,"series":"Measured Cu(II)Cl-pellet in stratified system"},
      {"energy":9.0516,"value":0.88,"series":"Measured Cu(II)Cl-pellet in stratified system"},
      {"energy":9.054,"value":0.876,"series":"Measured Cu(II)Cl-pellet in stratified system"},
      {"energy":9.0562,"value":0.883,"series":"Measured Cu(II)Cl-pellet in stratified system"},
      {"energy":9.0565,"value":0.687,"series":"Measured Cu(II)Cl-pellet in stratified system"},
      {"energy":9.0568,"value":0.88,"series":"Measured Cu(II)Cl-pellet in stratified system"},
      {"energy":9.0588,"value":0.873,"series":"Measured Cu(II)Cl-pellet in stratified system"},
      {"energy":9.061,"value":0.872,"series":"Measured Cu(II)Cl-pellet in stratified system"},
      {"energy":9.0631,"value":0.865,"series":"Measured Cu(II)Cl-pellet in stratified system"},
      {"energy":9.065,"value":0.862,"series":"Measured Cu(II)Cl-pellet in stratified system"},
      {"energy":9.0667,"value":0.857,"series":"Measured Cu(II)Cl-pellet in stratified system"},
      {"energy":9.069,"value":0.83,"series":"Measured Cu(II)Cl-pellet in stratified system"},
      {"energy":9.0703,"value":0.81,"series":"Measured Cu(II)Cl-pellet in stratified system"},
      {"energy":9.0724,"value":0.791,"series":"Measured Cu(II)Cl-pellet in stratified system"},
      {"energy":9.074,"value":0.798,"series":"Measured Cu(II)Cl-pellet in stratified system"},
      {"energy":9.0753,"value":0.803,"series":"Measured Cu(II)Cl-pellet in stratified system"},
      {"energy":9.0774,"value":0.826,"series":"Measured Cu(II)Cl-pellet in stratified system"},
      {"energy":9.079,"value":0.845,"series":"Measured Cu(II)Cl-pellet in stratified system"},
      {"energy":9.0799,"value":0.853,"series":"Measured Cu(II)Cl-pellet in stratified system"},
      {"energy":8.970,"value":0.0,"series":"Recontstructed Cu(II)Cl-pellet in stratified system"},
      {"energy":8.9737,"value":0.0,"series":"Recontstructed Cu(II)Cl-pellet in stratified system"},
      {"energy":8.9767,"value":0.003,"series":"Recontstructed Cu(II)Cl-pellet in stratified system"},
      {"energy":8.9785,"value":0.01,"series":"Recontstructed Cu(II)Cl-pellet in stratified system"},
      {"energy":8.9802,"value":0.023,"series":"Recontstructed Cu(II)Cl-pellet in stratified system"},
      {"energy":8.9815,"value":0.042,"series":"Recontstructed Cu(II)Cl-pellet in stratified system"},
      {"energy":8.9827,"value":0.075,"series":"Recontstructed Cu(II)Cl-pellet in stratified system"},
      {"energy":8.9836,"value":0.10,"series":"Recontstructed Cu(II)Cl-pellet in stratified system"},
      {"energy":8.9842,"value":0.14,"series":"Recontstructed Cu(II)Cl-pellet in stratified system"},
      {"energy":8.9849,"value":0.205,"series":"Recontstructed Cu(II)Cl-pellet in stratified system"},
      {"energy":8.9855,"value":0.31,"series":"Recontstructed Cu(II)Cl-pellet in stratified system"},
      {"energy":8.9862,"value":0.453,"series":"Recontstructed Cu(II)Cl-pellet in stratified system"},
      {"energy":8.9868,"value":0.571,"series":"Recontstructed Cu(II)Cl-pellet in stratified system"},
      {"energy":8.9873,"value":0.584,"series":"Recontstructed Cu(II)Cl-pellet in stratified system"},
      {"energy":8.9879,"value":0.577,"series":"Recontstructed Cu(II)Cl-pellet in stratified system"},
      {"energy":8.9885,"value":0.59,"series":"Recontstructed Cu(II)Cl-pellet in stratified system"},
      {"energy":8.9892,"value":0.649,"series":"Recontstructed Cu(II)Cl-pellet in stratified system"},
      {"energy":8.99,"value":0.734,"series":"Recontstructed Cu(II)Cl-pellet in stratified system"},
      {"energy":8.9904,"value":0.78,"series":"Recontstructed Cu(II)Cl-pellet in stratified system"},
      {"energy":8.9909,"value":0.832,"series":"Recontstructed Cu(II)Cl-pellet in stratified system"},
      {"energy":8.9916,"value":0.896,"series":"Recontstructed Cu(II)Cl-pellet in stratified system"},
      {"energy":8.9925,"value":0.95,"series":"Recontstructed Cu(II)Cl-pellet in stratified system"},
      {"energy":8.994,"value":0.99,"series":"Recontstructed Cu(II)Cl-pellet in stratified system"},
      {"energy":8.9955,"value":0.98,"series":"Recontstructed Cu(II)Cl-pellet in stratified system"},
      {"energy":8.997,"value":0.93,"series":"Recontstructed Cu(II)Cl-pellet in stratified system"},
      {"energy":8.9984,"value":0.869,"series":"Recontstructed Cu(II)Cl-pellet in stratified system"},
      {"energy":9.0002,"value":0.884,"series":"Recontstructed Cu(II)Cl-pellet in stratified system"},
      {"energy":9.0014,"value":0.803,"series":"Recontstructed Cu(II)Cl-pellet in stratified system"},
      {"energy":9.0023,"value":0.88,"series":"Recontstructed Cu(II)Cl-pellet in stratified system"},
      {"energy":9.0045,"value":0.826,"series":"Recontstructed Cu(II)Cl-pellet in stratified system"},
      {"energy":9.0066,"value":0.784,"series":"Recontstructed Cu(II)Cl-pellet in stratified system"},
      {"energy":9.0081,"value":0.842,"series":"Recontstructed Cu(II)Cl-pellet in stratified system"},
      {"energy":9.0102,"value":0.807,"series":"Recontstructed Cu(II)Cl-pellet in stratified system"},
      {"energy":9.0117,"value":0.753,"series":"Recontstructed Cu(II)Cl-pellet in stratified system"},
      {"energy":9.0131,"value":0.795,"series":"Recontstructed Cu(II)Cl-pellet in stratified system"},
      {"energy":9.0152,"value":0.78,"series":"Recontstructed Cu(II)Cl-pellet in stratified system"},
      {"energy":9.0174,"value":0.784,"series":"Recontstructed Cu(II)Cl-pellet in stratified system"},
      {"energy":9.0195,"value":0.772,"series":"Recontstructed Cu(II)Cl-pellet in stratified system"},
      {"energy":9.021,"value":0.78,"series":"Recontstructed Cu(II)Cl-pellet in stratified system"},
      {"energy":9.0227,"value":0.714,"series":"Recontstructed Cu(II)Cl-pellet in stratified system"},
      {"energy":9.0235,"value":0.775,"series":"Recontstructed Cu(II)Cl-pellet in stratified system"},
      {"energy":9.0246,"value":0.768,"series":"Recontstructed Cu(II)Cl-pellet in stratified system"},
      {"energy":9.026,"value":0.78,"series":"Recontstructed Cu(II)Cl-pellet in stratified system"},
      {"energy":9.0274,"value":0.807,"series":"Recontstructed Cu(II)Cl-pellet in stratified system"},
      {"energy":9.0285,"value":0.77,"series":"Recontstructed Cu(II)Cl-pellet in stratified system"},
      {"energy":9.0296,"value":0.718,"series":"Recontstructed Cu(II)Cl-pellet in stratified system"},
      {"energy":9.0305,"value":0.766,"series":"Recontstructed Cu(II)Cl-pellet in stratified system"},
      {"energy":9.0317,"value":0.772,"series":"Recontstructed Cu(II)Cl-pellet in stratified system"},
      {"energy":9.0346,"value":0.761,"series":"Recontstructed Cu(II)Cl-pellet in stratified system"},
      {"energy":9.036,"value":0.741,"series":"Recontstructed Cu(II)Cl-pellet in stratified system"},
      {"energy":9.037,"value":0.775,"series":"Recontstructed Cu(II)Cl-pellet in stratified system"},
      {"energy":9.0381,"value":0.795,"series":"Recontstructed Cu(II)Cl-pellet in stratified system"},
      {"energy":9.0403,"value":0.822,"series":"Recontstructed Cu(II)Cl-pellet in stratified system"},
      {"energy":9.0424,"value":0.799,"series":"Recontstructed Cu(II)Cl-pellet in stratified system"},
      {"energy":9.0446,"value":0.838,"series":"Recontstructed Cu(II)Cl-pellet in stratified system"},
      {"energy":9.0467,"value":0.819,"series":"Recontstructed Cu(II)Cl-pellet in stratified system"},
      {"energy":9.0485,"value":0.764,"series":"Recontstructed Cu(II)Cl-pellet in stratified system"},
      {"energy":9.0495,"value":0.85,"series":"Recontstructed Cu(II)Cl-pellet in stratified system"},
      {"energy":9.0503,"value":0.877,"series":"Recontstructed Cu(II)Cl-pellet in stratified system"},
      {"energy":9.0531,"value":0.857,"series":"Recontstructed Cu(II)Cl-pellet in stratified system"},
      {"energy":9.0545,"value":0.888,"series":"Recontstructed Cu(II)Cl-pellet in stratified system"},
      {"energy":9.0563,"value":0.87,"series":"Recontstructed Cu(II)Cl-pellet in stratified system"},
      {"energy":9.0574,"value":0.776,"series":"Recontstructed Cu(II)Cl-pellet in stratified system"},
      {"energy":9.058,"value":0.87,"series":"Recontstructed Cu(II)Cl-pellet in stratified system"},
      {"energy":9.0588,"value":0.88,"series":"Recontstructed Cu(II)Cl-pellet in stratified system"},
      {"energy":9.06,"value":0.86,"series":"Recontstructed Cu(II)Cl-pellet in stratified system"},
      {"energy":9.0613,"value":0.776,"series":"Recontstructed Cu(II)Cl-pellet in stratified system"},
      {"energy":9.0618,"value":0.875,"series":"Recontstructed Cu(II)Cl-pellet in stratified system"},
      {"energy":9.0624,"value":0.888,"series":"Recontstructed Cu(II)Cl-pellet in stratified system"},
      {"energy":9.0653,"value":0.865,"series":"Recontstructed Cu(II)Cl-pellet in stratified system"},
      {"energy":9.0674,"value":0.861,"series":"Recontstructed Cu(II)Cl-pellet in stratified system"},
      {"energy":9.0695,"value":0.83,"series":"Recontstructed Cu(II)Cl-pellet in stratified system"},
      {"energy":9.0717,"value":0.842,"series":"Recontstructed Cu(II)Cl-pellet in stratified system"},
      {"energy":9.0731,"value":0.857,"series":"Recontstructed Cu(II)Cl-pellet in stratified system"},
      {"energy":9.0745,"value":0.84,"series":"Recontstructed Cu(II)Cl-pellet in stratified system"},
      {"energy":9.0753,"value":0.776,"series":"Recontstructed Cu(II)Cl-pellet in stratified system"},
      {"energy":9.076,"value":0.83,"series":"Recontstructed Cu(II)Cl-pellet in stratified system"},
      {"energy":9.0767,"value":0.834,"series":"Recontstructed Cu(II)Cl-pellet in stratified system"},
      {"energy":9.0788,"value":0.865,"series":"Recontstructed Cu(II)Cl-pellet in stratified system"},
      {"energy":9.0799,"value":0.88,"series":"Recontstructed Cu(II)Cl-pellet in stratified system"}
    ],
    "trans": [
      {"energy":8.970,"value":1.0},{"energy":8.9721,"value":0.998},{"energy":8.9741,"value":0.993},{"energy":8.9757,"value":0.985},
      {"energy":8.9767,"value":0.973},{"energy":8.9775,"value":0.961},{"energy":8.978,"value":0.94},{"energy":8.9784,"value":0.91},
      {"energy":8.9788,"value":0.867},{"energy":8.9792,"value":0.831},{"energy":8.9798,"value":0.816},{"energy":8.9803,"value":0.81},
      {"energy":8.9811,"value":0.806},{"energy":8.9818,"value":0.813},{"energy":8.9825,"value":0.816},{"energy":8.9829,"value":0.81},
      {"energy":8.9831,"value":0.837},{"energy":8.9833,"value":0.815},{"energy":8.9837,"value":0.813},{"energy":8.9844,"value":0.806},
      {"energy":8.9848,"value":0.795},{"energy":8.9852,"value":0.788},{"energy":8.9857,"value":0.79},{"energy":8.9862,"value":0.785},
      {"energy":8.9869,"value":0.77},{"energy":8.9874,"value":0.766},{"energy":8.9879,"value":0.758},{"energy":8.9887,"value":0.749},
      {"energy":8.9895,"value":0.731},{"energy":8.99,"value":0.72},{"energy":8.9905,"value":0.712},{"energy":8.9915,"value":0.702},
      {"energy":8.9925,"value":0.694},{"energy":8.9933,"value":0.697},{"energy":8.9941,"value":0.693},{"energy":8.995,"value":0.698},
      {"energy":8.9956,"value":0.70},{"energy":8.9965,"value":0.709},{"energy":8.9972,"value":0.712},{"energy":8.9977,"value":0.708},
      {"energy":8.9982,"value":0.711},{"energy":8.999,"value":0.704},{"energy":8.9997,"value":0.706},{"energy":9.0003,"value":0.699},
      {"energy":9.0007,"value":0.70},{"energy":9.0012,"value":0.691},{"energy":9.0018,"value":0.686},{"energy":9.0023,"value":0.684},
      {"energy":9.003,"value":0.688},{"energy":9.0038,"value":0.685},{"energy":9.0045,"value":0.692},{"energy":9.0053,"value":0.697},
      {"energy":9.006,"value":0.70},{"energy":9.0069,"value":0.706},{"energy":9.0078,"value":0.71},{"energy":9.0089,"value":0.714},
      {"energy":9.01,"value":0.716},{"energy":9.011,"value":0.717},{"energy":9.012,"value":0.718},{"energy":9.013,"value":0.719},
      {"energy":9.014,"value":0.715},{"energy":9.0151,"value":0.711},{"energy":9.016,"value":0.707},{"energy":9.0171,"value":0.705},
      {"energy":9.018,"value":0.702},{"energy":9.0192,"value":0.70},{"energy":9.02,"value":0.699},{"energy":9.0212,"value":0.697},
      {"energy":9.022,"value":0.695},{"energy":9.0227,"value":0.711},{"energy":9.023,"value":0.694},{"energy":9.024,"value":0.691},
      {"energy":9.0253,"value":0.688},{"energy":9.0263,"value":0.69},{"energy":9.0273,"value":0.688},{"energy":9.028,"value":0.692},
      {"energy":9.0294,"value":0.70},{"energy":9.0299,"value":0.694},{"energy":9.0314,"value":0.697},{"energy":9.0325,"value":0.701},
      {"energy":9.0335,"value":0.703},{"energy":9.0345,"value":0.705},{"energy":9.0355,"value":0.708},{"energy":9.0365,"value":0.706},
      {"energy":9.0376,"value":0.709},{"energy":9.0386,"value":0.704},{"energy":9.0396,"value":0.706},{"energy":9.0407,"value":0.702},
      {"energy":9.0417,"value":0.70},{"energy":9.0427,"value":0.703},{"energy":9.0437,"value":0.702},{"energy":9.0448,"value":0.707},
      {"energy":9.0458,"value":0.705},{"energy":9.0468,"value":0.709},{"energy":9.0471,"value":0.729},{"energy":9.0474,"value":0.707},
      {"energy":9.0488,"value":0.70},{"energy":9.0498,"value":0.697},{"energy":9.0509,"value":0.694},{"energy":9.0519,"value":0.698},
      {"energy":9.0529,"value":0.70},{"energy":9.054,"value":0.697},{"energy":9.055,"value":0.696},{"energy":9.056,"value":0.699},
      {"energy":9.057,"value":0.697},{"energy":9.0573,"value":0.719},{"energy":9.0576,"value":0.699},{"energy":9.0591,"value":0.694},
      {"energy":9.0598,"value":0.692},{"energy":9.0601,"value":0.712},{"energy":9.0604,"value":0.69},{"energy":9.0611,"value":0.716},
      {"energy":9.0616,"value":0.691},{"energy":9.063,"value":0.693},{"energy":9.0642,"value":0.694},{"energy":9.0655,"value":0.69},
      {"energy":9.0673,"value":0.691},{"energy":9.0688,"value":0.69},{"energy":9.0703,"value":0.688},{"energy":9.0715,"value":0.686},
      {"energy":9.0724,"value":0.685},{"energy":9.0731,"value":0.676},{"energy":9.0739,"value":0.688},{"energy":9.0745,"value":0.686},
      {"energy":9.0752,"value":0.70},{"energy":9.0759,"value":0.688},{"energy":9.0775,"value":0.691},{"energy":9.0785,"value":0.699},
      {"energy":9.0792,"value":0.688},{"energy":9.0798,"value":0.696}
    ],
    "recon": [
      {"energy":8.97,"value":0.0},{"energy":8.9726,"value":0.002},{"energy":8.9744,"value":0.009},{"energy":8.9761,"value":0.02},
      {"energy":8.9772,"value":0.032},{"energy":8.9785,"value":0.029},{"energy":8.9797,"value":0.037},{"energy":8.981,"value":0.055},
      {"energy":8.9822,"value":0.087},{"energy":8.9831,"value":0.12},{"energy":8.9838,"value":0.166},{"energy":8.9843,"value":0.23},
      {"energy":8.9848,"value":0.313},{"energy":8.9853,"value":0.451},{"energy":8.9857,"value":0.589},{"energy":8.9864,"value":0.672},
      {"energy":8.987,"value":0.681},{"energy":8.9875,"value":0.644},{"energy":8.9879,"value":0.672},{"energy":8.9887,"value":0.708},
      {"energy":8.9893,"value":0.791},{"energy":8.99,"value":0.856},{"energy":8.9908,"value":0.892},{"energy":8.9915,"value":0.906},
      {"energy":8.9919,"value":0.934},{"energy":8.9926,"value":0.957},{"energy":8.9933,"value":0.984},{"energy":8.9939,"value":1.001},
      {"energy":8.9946,"value":0.994},{"energy":8.9953,"value":0.996},{"energy":8.9958,"value":0.975},{"energy":8.9965,"value":0.952},
      {"energy":8.9974,"value":0.938},{"energy":8.9983,"value":0.925},{"energy":8.9992,"value":0.906},{"energy":9.0001,"value":0.894},
      {"energy":9.0015,"value":0.879},{"energy":9.0027,"value":0.869},{"energy":9.0033,"value":0.856},{"energy":9.004,"value":0.823},
      {"energy":9.0049,"value":0.837},{"energy":9.0061,"value":0.845},{"energy":9.0075,"value":0.851},{"energy":9.0089,"value":0.842},
      {"energy":9.0103,"value":0.833},{"energy":9.0116,"value":0.828},{"energy":9.013,"value":0.819},{"energy":9.0144,"value":0.823},
      {"energy":9.0158,"value":0.814},{"energy":9.0167,"value":0.80},{"energy":9.0181,"value":0.81},{"energy":9.0194,"value":0.819},
      {"energy":9.0208,"value":0.823},{"energy":9.0222,"value":0.833},{"energy":9.024,"value":0.828},{"energy":9.0259,"value":0.83},
      {"energy":9.0277,"value":0.833},{"energy":9.0296,"value":0.828},{"energy":9.0314,"value":0.835},{"energy":9.0332,"value":0.837},
      {"energy":9.0351,"value":0.83},{"energy":9.036,"value":0.819},{"energy":9.0369,"value":0.842},{"energy":9.0388,"value":0.856},
      {"energy":9.0401,"value":0.869},{"energy":9.0415,"value":0.879},{"energy":9.0429,"value":0.869},{"energy":9.0443,"value":0.879},
      {"energy":9.0456,"value":0.885},{"energy":9.047,"value":0.891},{"energy":9.0484,"value":0.892},{"energy":9.0498,"value":0.90},
      {"energy":9.0507,"value":0.892},{"energy":9.0516,"value":0.881},{"energy":9.0525,"value":0.86},{"energy":9.0535,"value":0.874},
      {"energy":9.0548,"value":0.869},{"energy":9.0562,"value":0.86},{"energy":9.058,"value":0.865},{"energy":9.0599,"value":0.86},
      {"energy":9.0617,"value":0.856},{"energy":9.0636,"value":0.842},{"energy":9.0645,"value":0.865},{"energy":9.0663,"value":0.869},
      {"energy":9.0677,"value":0.865},{"energy":9.0691,"value":0.86},{"energy":9.0705,"value":0.837},{"energy":9.0718,"value":0.845},
      {"energy":9.0737,"value":0.833},{"energy":9.0755,"value":0.828},{"energy":9.0769,"value":0.823},{"energy":9.0783,"value":0.81},
      {"energy":9.0792,"value":0.791},{"energy":9.08,"value":0.814}
    ],
    "arrows": [
      {"x":4.28,"y":16.69,"x2":21.50,"y2":49.57,"kind":"excitation"},
      {"x":22.17,"y":49.70,"x2":36.36,"y2":21.76,"kind":"Cu foil"},
      {"x":51.59,"y":50.14,"x2":39.75,"y2":23.10,"kind":"Cu(II)Cl pellet"},
      {"x":53.33,"y":53.48,"x2":56.61,"y2":61.39,"kind":"Cu(II)Cl pellet"},
      {"x":57.40,"y":63.18,"x2":65.42,"y2":81.51,"kind":"Cu(II)Cl pellet"},
      {"x":94.12,"y":6.63,"x2":78.79,"y2":46.59,"kind":"excitation"},
      {"x":78.32,"y":48.29,"x2":65.81,"y2":81.70,"kind":"transmission"},
      {"x":32.00,"y":73.21,"x2":49.20,"y2":64.43,"kind":"Cu foil"},
      {"x":32.00,"y":77.96,"x2":48.70,"y2":67.17,"kind":"Kapton"},
      {"x":32.00,"y":89.62,"x2":47.20,"y2":80.39,"kind":"Cu(II)Cl pellet"}
    ],
    "heads": [
      {"x":21.50,"y":49.57,"heading":154.8,"kind":"excitation"},
      {"x":36.36,"y":21.76,"heading":24.5,"kind":"Cu foil"},
      {"x":39.75,"y":23.10,"heading":-21.5,"kind":"Cu(II)Cl pellet"},
      {"x":65.81,"y":81.70,"heading":198.6,"kind":"transmission"},
      {"x":49.20,"y":64.43,"heading":60.4,"kind":"Cu foil"},
      {"x":48.70,"y":67.17,"heading":54.3,"kind":"Kapton"},
      {"x":47.20,"y":80.39,"heading":56.0,"kind":"Cu(II)Cl pellet"}
    ],
    "hlines": [
      {"x":0.32,"x2":98.22,"y":33.16,"kind":"Cu foil"},
      {"x":0.57,"x2":98.65,"y":65.55,"kind":"Cu foil"},
      {"x":0.71,"x2":98.65,"y":66.26,"kind":"Kapton"},
      {"x":0.71,"x2":98.65,"y":67.41,"kind":"Kapton"},
      {"x":0.71,"x2":98.65,"y":68.15,"kind":"Cu(II)Cl pellet"}
    ],
    "boxes": [
      {"x":0.70,"x2":32.00,"y":72.67,"y2":74.16,"kind":"Cu foil"},
      {"x":0.70,"x2":32.00,"y":74.62,"y2":81.88,"kind":"Kapton"},
      {"x":0.70,"x2":32.00,"y":82.37,"y2":96.91,"kind":"Cu(II)Cl pellet"}
    ]
  },
  "vconcat": [
    {
      "hconcat": [
        {
          "width": 854,
          "height": 857,
          "layer": [
            {
              "data": {"name": "hlines"},
              "mark": {"type": "rule", "strokeWidth": 5.5},
              "encoding": {
                "x": {"field": "x", "type": "quantitative", "scale": {"domain": [0, 30.4456], "nice": false, "zero": false}, "axis": null},
                "x2": {"field": "x2"},
                "y": {"field": "y", "type": "quantitative", "scale": {"domain": [0, 27.4592], "nice": false, "zero": false, "reverse": true}, "axis": null},
                "color": {"field": "kind", "type": "nominal", "scale": {"domain": ["excitation", "Cu foil", "Kapton", "Cu(II)Cl pellet", "transmission"], "range": ["#000000", "#0000ff", "#000000", "#ff0000", "#e3e0d8"]}, "legend": null}
              }
            },
            {
              "data": {"name": "boxes"},
              "mark": {"type": "rect", "filled": false, "strokeWidth": 5},
              "encoding": {
                "x": {"field": "x", "type": "quantitative"},
                "x2": {"field": "x2"},
                "y": {"field": "y", "type": "quantitative"},
                "y2": {"field": "y2"},
                "color": {"field": "kind", "type": "nominal", "legend": null}
              }
            },
            {
              "data": {"name": "arrows"},
              "mark": {"type": "rule", "strokeWidth": 4},
              "encoding": {
                "x": {"field": "x", "type": "quantitative"},
                "y": {"field": "y", "type": "quantitative"},
                "x2": {"field": "x2"},
                "y2": {"field": "y2"},
                "color": {"field": "kind", "type": "nominal", "legend": null}
              }
            },
            {
              "data": {"name": "heads"},
              "mark": {"type": "point", "shape": "triangle-up", "filled": true, "size": 260, "opacity": 1},
              "encoding": {
                "x": {"field": "x", "type": "quantitative"},
                "y": {"field": "y", "type": "quantitative"},
                "angle": {"field": "heading", "type": "quantitative", "scale": null},
                "color": {"field": "kind", "type": "nominal", "legend": null}
              }
            },
            {
              "data": {"values": [{"x": 10.27, "y": 3.17, "text": "measured"}, {"x": 10.20, "y": 5.93, "text": "spectrum"}]},
              "mark": {"type": "text", "font": "Lato", "fontSize": 70, "color": "#1a7a1a", "align": "center", "baseline": "alphabetic"},
              "encoding": {"x": {"field": "x", "type": "quantitative"}, "y": {"field": "y", "type": "quantitative"}, "text": {"field": "text"}}
            },
            {
              "data": {"values": [{"x": 10.48, "y": 12.91, "text": "original spectrum"}]},
              "mark": {"type": "text", "font": "Lato", "fontSize": 70, "color": "#ff0000", "align": "center", "baseline": "alphabetic"},
              "encoding": {"x": {"field": "x", "type": "quantitative"}, "y": {"field": "y", "type": "quantitative"}, "text": {"field": "text"}}
            },
            {
              "data": {"values": [{"x": 11.12, "y": 15.83, "text": "transmission"}]},
              "mark": {"type": "text", "font": "Lato", "fontSize": 70, "color": "#808080", "align": "center", "baseline": "alphabetic"},
              "encoding": {"x": {"field": "x", "type": "quantitative"}, "y": {"field": "y", "type": "quantitative"}, "text": {"field": "text"}}
            },
            {
              "data": {"values": [{"x": 10.27, "y": 9.64, "text": "="}]},
              "mark": {"type": "text", "font": "Lato", "fontSize": 84, "fontWeight": "bold", "color": "#000000", "align": "center", "baseline": "alphabetic"},
              "encoding": {"x": {"field": "x", "type": "quantitative"}, "y": {"field": "y", "type": "quantitative"}, "text": {"field": "text"}}
            },
            {
              "data": {"values": [{"x": 3.14, "y": 16.93, "text": "*"}]},
              "mark": {"type": "text", "font": "Lato", "fontSize": 76, "color": "#000000", "align": "center", "baseline": "alphabetic"},
              "encoding": {"x": {"field": "x", "type": "quantitative"}, "y": {"field": "y", "type": "quantitative"}, "text": {"field": "text"}}
            },
            {
              "data": {"values": [{"x": 9.72, "y": 23.51, "text": "excitation"}]},
              "mark": {"type": "text", "font": "Lato", "fontSize": 68, "fontWeight": "bold", "color": "#000000", "align": "center", "baseline": "middle", "angle": 65},
              "encoding": {"x": {"field": "x", "type": "quantitative"}, "y": {"field": "y", "type": "quantitative"}, "text": {"field": "text"}}
            },
            {
              "data": {"values": [{"x": 89.84, "y": 24.41, "text": "excitation"}]},
              "mark": {"type": "text", "font": "Lato", "fontSize": 68, "fontWeight": "bold", "color": "#000000", "align": "center", "baseline": "middle", "angle": 294},
              "encoding": {"x": {"field": "x", "type": "quantitative"}, "y": {"field": "y", "type": "quantitative"}, "text": {"field": "text"}}
            },
            {
              "data": {"values": [{"x": 37.78, "y": 32.10, "text": "detection"}]},
              "mark": {"type": "text", "font": "Lato", "fontSize": 66, "fontWeight": "bold", "color": "#000000", "align": "center", "baseline": "alphabetic"},
              "encoding": {"x": {"field": "x", "type": "quantitative"}, "y": {"field": "y", "type": "quantitative"}, "text": {"field": "text"}}
            },
            {
              "data": {"values": [
                {"x": 24.30, "y": 31.75, "text": "a)"},
                {"x": 2.48, "y": 64.79, "text": "b)"},
                {"x": 53.43, "y": 64.31, "text": "c)"},
                {"x": 52.39, "y": 99.42, "text": "d)"},
                {"x": 1.70, "y": 99.65, "text": "e)"}
              ]},
              "mark": {"type": "text", "font": "Liberation Sans", "fontSize": 60, "fontWeight": "bold", "color": "#000000", "align": "center", "baseline": "alphabetic"},
              "encoding": {"x": {"field": "x", "type": "quantitative"}, "y": {"field": "y", "type": "quantitative"}, "text": {"field": "text"}}
            },
            {
              "data": {"values": [
                {"x": 17.18, "y": 72.09, "text": "2 µm copper foil"},
                {"x": 16.22, "y": 79.21, "text": "50 µm kapton foil"},
                {"x": 16.29, "y": 89.84, "text": "Cu(II)Cl-pellet"}
              ]},
              "mark": {"type": "text", "font": "Lato", "fontSize": 66, "color": "#000000", "align": "center", "baseline": "alphabetic"},
              "encoding": {"x": {"field": "x", "type": "quantitative"}, "y": {"field": "y", "type": "quantitative"}, "text": {"field": "text"}}
            }
          ]
        },
        {
          "width": 1391,
          "height": 857,
          "layer": [
            {
              "data": {"name": "foil"},
              "mark": {"type": "line", "strokeWidth": 4, "clip": true},
              "encoding": {
                "x": {"field": "energy", "type": "quantitative", "scale": {"domain": [8.96, 9.09], "nice": false, "zero": false},
                  "axis": {"title": "Energy [keV]", "values": [8.96, 8.965, 8.97, 8.975, 8.98, 8.985, 8.99, 8.995, 9.0, 9.005, 9.01, 9.015, 9.02, 9.025, 9.03, 9.035, 9.04, 9.045, 9.05, 9.055, 9.06, 9.065, 9.07, 9.075, 9.08, 9.085, 9.09],
                    "labelExpr": "round(datum.value*1000) % 10 == 0 ? format(datum.value, '.2f') : ''",
                    "tickSize": {"condition": {"test": "round(datum.value*1000) % 10 == 0", "value": 20}, "value": 10},
                    "tickWidth": 3.5, "domainWidth": 4, "labelFontSize": 40, "labelPadding": 14, "titleFontSize": 55, "titlePadding": 30}},
                "y": {"field": "value", "type": "quantitative", "scale": {"domain": [-0.1, 0.9], "nice": false, "zero": false},
                  "axis": {"title": "Fluorescence normalized [a.u.]", "values": [0, 0.1, 0.2, 0.3, 0.4, 0.5, 0.6, 0.7, 0.8],
                    "labelExpr": "round(datum.value*10) % 2 == 0 ? format(datum.value, '.1f') : ''",
                    "tickSize": {"condition": {"test": "round(datum.value*10) % 2 == 0", "value": 18}, "value": 9},
                    "tickWidth": 3.5, "domainWidth": 4, "labelFontSize": 40, "labelPadding": 14, "titleFontSize": 53, "titlePadding": 60, "titleY": 372}},
                "color": {"field": "series", "type": "nominal",
                  "scale": {"domain": ["Fluorescence Cu K-edge, Cu-foil 2µm", "Reconstructed Cu(II)Cl-pellet apart", "Measured Cu(II)Cl-pellet in stratified system", "Recontstructed Cu(II)Cl-pellet in stratified system"], "range": ["#0000ff", "#ff0000", "#008000", "#000000"]},
                  "legend": {"orient": "none", "legendX": 321, "legendY": 295, "title": null, "symbolType": "M-3,0H3", "symbolSize": 1444, "symbolStrokeWidth": 4, "symbolOffset": 29.5, "labelOffset": 46, "labelFontSize": 55, "rowPadding": 12,
                    "labelExpr": "datum.label == 'Fluorescence Cu K-edge, Cu-foil 2µm' ? 'Fluorescence Cu K-edge, Cu-foil 2 µm' : datum.label"}}
              }
            },
            {
              "data": {"name": "stack"},
              "mark": {"type": "line", "strokeWidth": 4, "clip": true},
              "encoding": {
                "x": {"field": "energy", "type": "quantitative"},
                "y": {"field": "value", "type": "quantitative"},
                "color": {"field": "series", "type": "nominal"}
              }
            }
          ]
        }
      ],
      "spacing": 0,
      "bounds": "flush",
      "resolve": {"scale": {"color": "independent"}, "legend": {"color": "independent"}}
    },
    {
      "hconcat": [
        {"width": 184, "height": 10, "data": {"values": []}, "mark": "point"},
        {
          "width": 1117,
          "height": 831,
          "data": {"name": "foil"},
          "mark": {"type": "line", "strokeWidth": 2},
          "encoding": {
            "x": {"field": "energy", "type": "quantitative", "scale": {"domain": [8.96763, 9.08202], "nice": false, "zero": false},
              "axis": {"title": "Energy [keV]", "values": [8.97, 8.975, 8.98, 8.985, 8.99, 8.995, 9.0, 9.005, 9.01, 9.015, 9.02, 9.025, 9.03, 9.035, 9.04, 9.045, 9.05, 9.055, 9.06, 9.065, 9.07, 9.075, 9.08],
                "labelExpr": "round(datum.value*1000) % 10 == 0 ? format(datum.value, '.2f') : ''",
                "tickSize": {"condition": {"test": "round(datum.value*1000) % 10 == 0", "value": 15}, "value": 8},
                "tickWidth": 2.5, "domainWidth": 3, "labelFontSize": 33, "labelPadding": 10, "titleFontSize": 44, "titlePadding": 24}},
            "y": {"field": "value", "type": "quantitative", "scale": {"domain": [-0.1, 1.1098], "nice": false, "zero": false},
              "axis": {"title": "Fluorescence normalized [a.u.]", "values": [0, 0.1, 0.2, 0.3, 0.4, 0.5, 0.6, 0.7, 0.8, 0.9, 1.0],
                "labelExpr": "round(datum.value*10) % 2 == 0 ? format(datum.value, '.1f') : ''",
                "tickSize": {"condition": {"test": "round(datum.value*10) % 2 == 0", "value": 15}, "value": 8},
                "tickWidth": 2.5, "domainWidth": 3, "labelFontSize": 33, "labelPadding": 8, "titleFontSize": 44, "titlePadding": 45}},
            "color": {"field": "series", "type": "nominal", "scale": {"domain": ["Fluorescence Cu K-edge, Cu-foil 2µm"], "range": ["#0000ff"]},
              "legend": {"orient": "none", "legendX": 202, "legendY": 463, "title": null, "symbolType": "M-3,0H3", "symbolSize": 900, "symbolStrokeWidth": 2.5, "symbolOffset": 23, "labelOffset": 36, "labelFontSize": 44}}
          }
        },
        {"width": 315, "height": 10, "data": {"values": []}, "mark": "point"},
        {
          "width": 1106,
          "height": 829,
          "data": {"name": "trans"},
          "mark": {"type": "line", "strokeWidth": 2.8},
          "encoding": {
            "x": {"field": "energy", "type": "quantitative", "scale": {"domain": [8.96, 9.09], "nice": false, "zero": false},
              "axis": {"title": "Energy [keV]", "values": [8.96, 8.965, 8.97, 8.975, 8.98, 8.985, 8.99, 8.995, 9.0, 9.005, 9.01, 9.015, 9.02, 9.025, 9.03, 9.035, 9.04, 9.045, 9.05, 9.055, 9.06, 9.065, 9.07, 9.075, 9.08, 9.085, 9.09],
                "labelExpr": "round(datum.value*1000) % 10 == 0 ? format(datum.value, '.2f') : ''",
                "tickSize": {"condition": {"test": "round(datum.value*1000) % 10 == 0", "value": 15}, "value": 8},
                "tickWidth": 2.5, "domainWidth": 3, "labelFontSize": 33, "labelPadding": 10, "titleFontSize": 44, "titlePadding": 26}},
            "y": {"field": "value", "type": "quantitative", "scale": {"domain": [0.625, 1.0273], "nice": false, "zero": false},
              "axis": {"title": "Transmission normalized [a.u.]", "values": [0.65, 0.7, 0.75, 0.8, 0.85, 0.9, 0.95, 1.0],
                "labelExpr": "round(datum.value*100) % 10 == 0 ? format(datum.value, '.1f') : ''",
                "tickSize": {"condition": {"test": "round(datum.value*100) % 10 == 0", "value": 17}, "value": 8},
                "tickWidth": 2.5, "domainWidth": 3, "labelFontSize": 33, "labelPadding": 8, "titleFontSize": 44, "titlePadding": 40}},
            "color": {"datum": "Transmission Cu K-edge, Cu-foil 2µm", "type": "nominal", "scale": {"domain": ["Transmission Cu K-edge, Cu-foil 2µm"], "range": ["#808080"]},
              "legend": {"orient": "none", "legendX": 233, "legendY": 376, "title": null, "symbolType": "M-3,0H3", "symbolSize": 841, "symbolStrokeWidth": 2.5, "symbolOffset": 21.5, "labelOffset": 34.5, "labelFontSize": 44}}
          }
        }
      ],
      "spacing": 0,
      "bounds": "flush",
      "resolve": {"scale": {"color": "independent"}, "legend": {"color": "independent"}}
    },
    {
      "hconcat": [
        {"width": 1606, "height": 10, "data": {"values": []}, "mark": "point"},
        {
          "width": 1111,
          "height": 822,
          "data": {"name": "recon"},
          "mark": {"type": "line", "strokeWidth": 2.5},
          "encoding": {
            "x": {"field": "energy", "type": "quantitative", "scale": {"domain": [8.96797, 9.08192], "nice": false, "zero": false},
              "axis": {"title": "Energy [keV]", "values": [8.97, 8.975, 8.98, 8.985, 8.99, 8.995, 9.0, 9.005, 9.01, 9.015, 9.02, 9.025, 9.03, 9.035, 9.04, 9.045, 9.05, 9.055, 9.06, 9.065, 9.07, 9.075, 9.08],
                "labelExpr": "round(datum.value*1000) % 10 == 0 ? format(datum.value, '.2f') : ''",
                "tickSize": {"condition": {"test": "round(datum.value*1000) % 10 == 0", "value": 15}, "value": 8},
                "tickWidth": 2.5, "domainWidth": 3, "labelFontSize": 33, "labelPadding": 12, "titleFontSize": 44, "titlePadding": 30, "titleX": 588}},
            "y": {"field": "value", "type": "quantitative", "scale": {"domain": [-0.0994, 1.0971], "nice": false, "zero": false},
              "axis": {"title": "Fluorescence normalized [a.u.]", "values": [0, 0.1, 0.2, 0.3, 0.4, 0.5, 0.6, 0.7, 0.8, 0.9, 1.0],
                "labelExpr": "round(datum.value*10) % 2 == 0 ? format(datum.value, '.1f') : ''",
                "tickSize": {"condition": {"test": "round(datum.value*10) % 2 == 0", "value": 18}, "value": 9},
                "tickWidth": 2.5, "domainWidth": 3, "labelFontSize": 33, "labelPadding": 8, "titleFontSize": 44, "titlePadding": 40}},
            "color": {"datum": "Reconstructed fluorescence Cu K-edge, CuCl-pellet", "type": "nominal", "scale": {"domain": ["Reconstructed fluorescence Cu K-edge, CuCl-pellet"], "range": ["#ff0000"]},
              "legend": {"orient": "none", "legendX": 202, "legendY": 433, "title": null, "symbolType": "M-3,0H3", "symbolSize": 900, "symbolStrokeWidth": 2.5, "symbolOffset": 23, "labelOffset": 36, "labelFontSize": 44, "labelBaseline": "alphabetic",
                "labelExpr": "['Reconstructed fluorescence Cu K-edge,', '\u200b\u00a0\u00a0\u00a0\u00a0CuCl-pellet']"}}
          }
        }
      ],
      "spacing": 0,
      "bounds": "flush",
      "resolve": {"scale": {"color": "independent"}, "legend": {"color": "independent"}}
    }
  ],
  "spacing": 1080,
  "bounds": "flush",
  "resolve": {"scale": {"color": "independent"}, "legend": {"color": "independent"}}
}
